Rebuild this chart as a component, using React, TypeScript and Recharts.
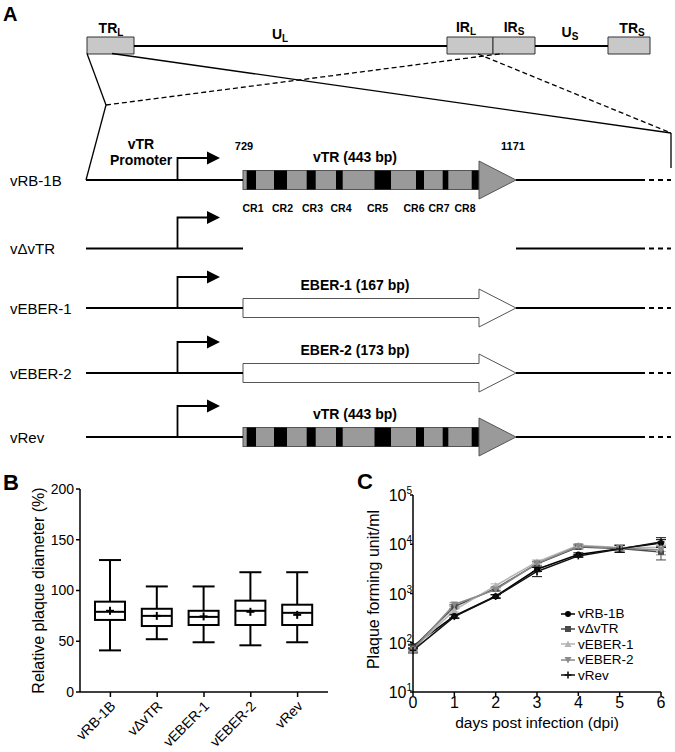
import React from 'react';
import {
  ComposedChart, LineChart, XAxis, YAxis, ReferenceLine, ReferenceArea, ReferenceDot,
  Bar, Line, ErrorBar, Legend,
} from 'recharts';

const FONT = "Arial, 'Liberation Sans', Helvetica, sans-serif";

/* ---------------- Panel A: schematic (diagram units of a 675 x 460 frame) ---------------- */
const genomeSegments = [[134, 447], [535, 608]];
const genomeBoxes = [
  { start: 87, end: 134 },
  { start: 447, end: 493 },
  { start: 493, end: 535 },
  { start: 608, end: 650 },
];
const genomeLabels = [
  { name: 'TR', sub: 'L', x: 111, y: 33 },
  { name: 'U', sub: 'L', x: 280, y: 39 },
  { name: 'IR', sub: 'L', x: 466, y: 31.5 },
  { name: 'IR', sub: 'S', x: 514, y: 31.5 },
  { name: 'U', sub: 'S', x: 570, y: 36.5 },
  { name: 'TR', sub: 'S', x: 632, y: 33 },
];
const zoomLinks = [
  { from: [87, 53.5], to: [106, 105], dashed: false },
  { from: [106, 105], to: [86, 180], dashed: false },
  { from: [106, 105], to: [503, 53.5], dashed: true },
  { from: [112, 53.5], to: [671, 133], dashed: false },
  { from: [671, 133], to: [671, 168], dashed: false },
  { from: [478, 54], to: [671, 133], dashed: true },
];
const constructNames = ['vRB-1B', 'v\u0394vTR', 'vEBER-1', 'vEBER-2', 'vRev'];
const constructRows = [180, 248.5, 308, 373, 437];
const constructInserts = ['vTR', 'none', 'EBER', 'EBER', 'vTR'];
const constructInsertLabels = ['vTR (443 bp)', '', 'EBER-1 (167 bp)', 'EBER-2 (173 bp)', 'vTR (443 bp)'];
const promoterHeights = [22, 31, 31, 31, 31];
const crBands = [[246.7, 256], [274, 287], [306.7, 315.7], [336, 342.7], [374.5, 391], [416, 424], [442.7, 448.3], [471.7, 479]];
const crLabels = ['CR1', 'CR2', 'CR3', 'CR4', 'CR5', 'CR6', 'CR7', 'CR8'];
const crLabelX = [253, 282.5, 312.5, 341, 377.5, 414, 439, 465];

const LINE_START = 86;
const INSERT_START = 243;
const HEAD_START = 479;
const INSERT_END = 516;
const FLANK_END = 645;
const DASH_START = 649;
const DASH_END = 671;
const PROMOTER_X = 177.5;
const PROMOTER_HEAD = 207;
const PROMOTER_TIP = 220;
const HEAD_HALF = 19;
const BODY_HALF = 9.5;

const txt = (content: any, size: number, bold = false, anchor = 'middle') => (p: any) => (
  <text x={p.cx} y={p.cy} textAnchor={anchor} fontSize={size} fontWeight={bold ? 'bold' : 'normal'}
    fill="#000" fontFamily={FONT}>{content}</text>
);

const insertShape = (kind: string) => (p: any) => {
  const { x, y, width, height } = p;
  const k = width / (INSERT_END - INSERT_START);
  const sx = (u: number) => x + (u - INSERT_START) * k;
  const cy = y + height / 2;
  const bh = (height * BODY_HALF) / (2 * HEAD_HALF);
  const hs = sx(HEAD_START);
  if (kind === 'EBER') {
    const pts = [
      [x, cy - bh], [hs, cy - bh], [hs, y], [x + width, cy], [hs, y + height], [hs, cy + bh], [x, cy + bh],
    ].map((q) => q.join(',')).join(' ');
    return <polygon points={pts} fill="#fff" stroke="#555" strokeWidth={1} />;
  }
  return (
    <g>
      <rect x={x} y={cy - bh} width={hs - x} height={2 * bh} fill="#9a9a9a" stroke="#555" strokeWidth={1} />
      {crBands.map((b, i) => (
        <rect key={i} x={sx(b[0])} y={cy - bh} width={sx(b[1]) - sx(b[0])} height={2 * bh} fill="#000" />
      ))}
      <polygon points={`${hs},${y} ${x + width},${cy} ${hs},${y + height}`} fill="#9a9a9a" stroke="#555" strokeWidth={1} />
    </g>
  );
};

const promoterShape = (h: number) => (p: any) => {
  const { x, y, width, height } = p;
  const k = height / (h + 6.5);
  const ay = y + 6.5 * k;
  const hs = x + ((PROMOTER_HEAD - PROMOTER_X) / (PROMOTER_TIP - PROMOTER_X)) * width;
  return (
    <g>
      <path d={`M${x},${y + height} L${x},${ay} L${hs},${ay}`} fill="none" stroke="#000" strokeWidth={1.8} />
      <polygon points={`${hs},${ay - 6.5 * k} ${x + width},${ay} ${hs},${ay + 6.5 * k}`} fill="#000" />
    </g>
  );
};

function GenomeDiagram() {
  const line = { stroke: '#000', strokeWidth: 1.8 };
  return (
    <ComposedChart width={675} height={460} data={[{ x: 0, y: 0 }]} margin={{ top: 0, right: 0, bottom: 0, left: 0 }}>
      <XAxis type="number" dataKey="x" domain={[0, 675]} hide allowDataOverflow />
      <YAxis type="number" dataKey="y" domain={[0, 460]} reversed hide allowDataOverflow />
      {genomeSegments.map((s, i) => (
        <ReferenceLine key={`g${i}`} segment={[{ x: s[0], y: 46 }, { x: s[1], y: 46 }]} {...line} ifOverflow="visible" />
      ))}
      {genomeBoxes.map((b, i) => (
        <ReferenceArea key={`b${i}`} x1={b.start} x2={b.end} y1={37} y2={54} fill="#c8c8c8" fillOpacity={1}
          stroke="#333" strokeWidth={1} ifOverflow="visible" />
      ))}
      {genomeLabels.map((l, i) => (
        <ReferenceDot key={`gl${i}`} x={l.x} y={l.y} r={0} ifOverflow="visible"
          shape={txt([l.name, <tspan key="s" fontSize={10} dy={3}>{l.sub}</tspan>], 14, true)} />
      ))}
      {zoomLinks.map((z, i) => (
        <ReferenceLine key={`z${i}`} segment={[{ x: z.from[0], y: z.from[1] }, { x: z.to[0], y: z.to[1] }]}
          stroke="#000" strokeWidth={1.3} strokeDasharray={z.dashed ? '5 3' : undefined} ifOverflow="visible" />
      ))}
      {constructNames.map((name, i) => {
        const row = constructRows[i];
        const ins = constructInserts[i];
        return (
          <React.Fragment key={`c${i}`}>
            <ReferenceDot x={10} y={row + 5.5} r={0} ifOverflow="visible" shape={txt(name, 15, false, 'start')} />
            <ReferenceLine segment={[{ x: LINE_START, y: row }, { x: INSERT_START, y: row }]} {...line} ifOverflow="visible" />
            <ReferenceLine segment={[{ x: INSERT_END, y: row }, { x: FLANK_END, y: row }]} {...line} ifOverflow="visible" />
            <ReferenceLine segment={[{ x: DASH_START, y: row }, { x: DASH_END, y: row }]} {...line}
              strokeDasharray="5 4" ifOverflow="visible" />
            <ReferenceArea x1={PROMOTER_X} x2={PROMOTER_TIP} y1={row - promoterHeights[i] - 6.5} y2={row}
              ifOverflow="visible" shape={promoterShape(promoterHeights[i])} />
            {ins !== 'none' && (
              <ReferenceArea x1={INSERT_START} x2={INSERT_END} y1={row - HEAD_HALF} y2={row + HEAD_HALF}
                ifOverflow="visible" shape={insertShape(ins)} />
            )}
            {ins !== 'none' && (
              <ReferenceDot x={INSERT_START + 112} y={row - 18} r={0} ifOverflow="visible"
                shape={txt(constructInsertLabels[i], 14, true)} />
            )}
          </React.Fragment>
        );
      })}
      <ReferenceDot x={141} y={149} r={0} ifOverflow="visible" shape={txt('vTR', 14, true)} />
      <ReferenceDot x={141} y={165} r={0} ifOverflow="visible" shape={txt('Promoter', 14, true)} />
      <ReferenceDot x={244} y={150} r={0} ifOverflow="visible" shape={txt('729', 11, true)} />
      <ReferenceDot x={513} y={150} r={0} ifOverflow="visible" shape={txt('1171', 11, true)} />
      {crLabels.map((c, i) => (
        <ReferenceDot key={`cr${i}`} x={crLabelX[i]} y={constructRows[0] + 32} r={0} ifOverflow="visible"
          shape={txt(c, 10.5, true)} />
      ))}
    </ComposedChart>
  );
}

/* ---------------- Panel B: relative plaque diameter ---------------- */
const strains = ['vRB-1B', 'v\u0394vTR', 'vEBER-1', 'vEBER-2', 'vRev'];
const plaqueMin = [41, 52, 49, 46, 49];
const plaqueQ1 = [71, 65, 66, 66, 66];
const plaqueMedian = [79, 75, 74, 80, 78];
const plaqueQ3 = [89, 82, 80, 90, 86];
const plaqueMax = [130, 104, 104, 118, 118];
const plaqueMean = [80, 75, 74.5, 79, 76];
const plaqueTicks = [0, 50, 100, 150, 200];

const boxData = strains.map((s, i) => ({
  strain: s, min: plaqueMin[i], q1: plaqueQ1[i], median: plaqueMedian[i],
  q3: plaqueQ3[i], max: plaqueMax[i], mean: plaqueMean[i],
}));

const BoxShape = (props: any) => {
  const { x, y, width, height, payload } = props;
  const top = Math.min(y, y + height);
  const h = Math.abs(height);
  const { min, max, q1, q3, median, mean } = payload;
  const py = (v: number) => top + (h * (max - v)) / (max - min);
  const cx = x + width / 2;
  const cap = 11;
  return (
    <g stroke="#000" strokeWidth={2} fill="none">
      <line x1={cx} x2={cx} y1={py(max)} y2={py(q3)} />
      <line x1={cx} x2={cx} y1={py(q1)} y2={py(min)} />
      <line x1={cx - cap} x2={cx + cap} y1={py(max)} y2={py(max)} />
      <line x1={cx - cap} x2={cx + cap} y1={py(min)} y2={py(min)} />
      <rect x={x} y={py(q3)} width={width} height={py(q1) - py(q3)} fill="#fff" />
      <line x1={x} x2={x + width} y1={py(median)} y2={py(median)} />
      <line x1={cx - 4} x2={cx + 4} y1={py(mean)} y2={py(mean)} />
      <line x1={cx} x2={cx} y1={py(mean) - 4} y2={py(mean) + 4} />
    </g>
  );
};

const RotTick = (p: any) => {
  const tx = p.x + 6;
  const ty = p.y + 8;
  return (
    <text x={tx} y={ty} transform={`rotate(-45, ${tx}, ${ty})`} textAnchor="end" fontSize={14}
      fill="#000" fontFamily={FONT}>{p.payload.value}</text>
  );
};

function PlaqueBox() {
  return (
    <ComposedChart width={340} height={292} data={boxData} margin={{ top: 29, right: 12, bottom: 0, left: 0 }}>
      <XAxis dataKey="strain" type="category" height={60} padding={{ left: 7, right: 7 }} interval={0}
        tickSize={5} tickLine={{ stroke: '#000', strokeWidth: 1.5 }} axisLine={{ stroke: '#000', strokeWidth: 1.5 }}
        tick={<RotTick />} />
      <YAxis type="number" domain={[0, 200]} ticks={plaqueTicks} width={80} tickSize={4} tickMargin={2}
        tickLine={{ stroke: '#000', strokeWidth: 1.5 }} axisLine={{ stroke: '#000', strokeWidth: 1.5 }}
        tick={{ fill: '#000', fontSize: 14 }}
        label={{
          content: (lp: any) => {
            const vb = lp.viewBox || { x: 0, y: 29, height: 203 };
            const cx = vb.x + 38;
            const cy = vb.y + vb.height / 2;
            return (
              <text x={cx} y={cy} transform={`rotate(-90, ${cx}, ${cy})`} textAnchor="middle"
                dominantBaseline="central" fontSize={16} fill="#000" fontFamily={FONT}>
                Relative plaque diameter (%)
              </text>
            );
          },
        }} />
      <Bar dataKey={(d: any) => [d.min, d.max]} barSize={30} isAnimationActive={false} shape={BoxShape} />
    </ComposedChart>
  );
}

/* ---------------- Panel C: multi-step growth ---------------- */
const days = [0, 1, 2, 3, 4, 5, 6];
const rb1b = [85, 350, 880, 3100, 6200, 8100, 10600];
const dvtr = [80, 540, 1260, 4000, 8800, 8200, 7000];
const eber1 = [74, 460, 1450, 4400, 9500, 8600, 8600];
const eber2 = [72, 600, 1200, 4100, 9100, 8400, 7600];
const rev = [70, 340, 870, 2800, 5800, 8000, 11100];
const rb1bErr = [[8, 8], [30, 30], [60, 60], [300, 300], [500, 500], [1200, 1500], [1500, 1800]];
const dvtrErr = [[8, 8], [50, 50], [100, 100], [400, 400], [800, 800], [1300, 1500], [2200, 1800]];
const eber1Err = [[6, 6], [40, 40], [120, 120], [400, 400], [800, 800], [1000, 1200], [1500, 1500]];
const eber2Err = [[6, 6], [50, 50], [100, 100], [400, 400], [800, 800], [1000, 1200], [1500, 1500]];
const revErr = [[8, 8], [30, 30], [80, 80], [600, 600], [400, 400], [1200, 1400], [2500, 2500]];
const powerTicks = [10, 100, 1000, 10000, 100000];

const growthData = days.map((d, i) => ({
  day: d, rb1b: rb1b[i], dvtr: dvtr[i], eber1: eber1[i], eber2: eber2[i], rev: rev[i],
  rb1bErr: rb1bErr[i], dvtrErr: dvtrErr[i], eber1Err: eber1Err[i], eber2Err: eber2Err[i], revErr: revErr[i],
}));

const growthSeries = [
  { key: 'rb1b', name: 'vRB-1B', color: '#000000', marker: 'circle' },
  { key: 'dvtr', name: 'v\u0394vTR', color: '#4a4a4a', marker: 'square' },
  { key: 'eber1', name: 'vEBER-1', color: '#b4b4b4', marker: 'up' },
  { key: 'eber2', name: 'vEBER-2', color: '#8a8a8a', marker: 'down' },
  { key: 'rev', name: 'vRev', color: '#111111', marker: 'plus' },
];

const Marker = ({ cx, cy, kind, color }: any) => {
  if (cx == null || cy == null) return null;
  if (kind === 'circle') return <circle cx={cx} cy={cy} r={3} fill={color} />;
  if (kind === 'square') return <rect x={cx - 3} y={cy - 3} width={6} height={6} fill={color} />;
  if (kind === 'up') return <polygon points={`${cx - 3.5},${cy + 3} ${cx + 3.5},${cy + 3} ${cx},${cy - 3.5}`} fill={color} />;
  if (kind === 'down') return <polygon points={`${cx - 3.5},${cy - 3} ${cx + 3.5},${cy - 3} ${cx},${cy + 3.5}`} fill={color} />;
  return (
    <g stroke={color} strokeWidth={1.6}>
      <line x1={cx - 3.5} x2={cx + 3.5} y1={cy} y2={cy} />
      <line x1={cx} x2={cx} y1={cy - 3.5} y2={cy + 3.5} />
    </g>
  );
};

const PowTick = (p: any) => {
  const exp = Math.round(Math.log10(p.payload.value));
  return (
    <text x={p.x + 2} y={p.y + 6} textAnchor="end" fontSize={16} fill="#000" fontFamily={FONT}>
      10<tspan fontSize={10} dy={-7}>{exp}</tspan>
    </text>
  );
};

const LEGEND_ROW = 15.4;
const GrowthLegend = () => (
  <div style={{ fontFamily: FONT, fontSize: 13.5, color: '#000' }}>
    {growthSeries.map((s) => (
      <div key={s.key} style={{ display: 'flex', alignItems: 'center', height: LEGEND_ROW, whiteSpace: 'nowrap' }}>
        <svg width={15} height={10} style={{ marginRight: 2, overflow: 'visible' }}>
          <line x1={0} x2={14} y1={5} y2={5} stroke={s.color} strokeWidth={1.5} />
          <Marker cx={7} cy={5} kind={s.marker} color={s.color} />
        </svg>
        <span style={{ lineHeight: `${LEGEND_ROW}px` }}>{s.name}</span>
      </div>
    ))}
  </div>
);

function GrowthCurve() {
  return (
    <LineChart width={335} height={292} data={growthData} margin={{ top: 35, right: 14, bottom: 0, left: 0 }}>
      <XAxis dataKey="day" type="number" domain={[0, 6]} ticks={days} height={60} tickSize={4} tickMargin={1}
        tick={{ fill: '#000', fontSize: 16 }} tickLine={{ stroke: '#000', strokeWidth: 1.5 }}
        axisLine={{ stroke: '#000', strokeWidth: 1.5 }}
        label={{
          content: (lp: any) => {
            const vb = lp.viewBox || { x: 73, y: 232, width: 248 };
            return (
              <text x={vb.x + vb.width / 2} y={vb.y + 30} textAnchor="middle" dominantBaseline="central"
                fontSize={15.5} fill="#000" fontFamily={FONT}>days post infection (dpi)</text>
            );
          },
        }} />
      <YAxis type="number" scale="log" domain={[10, 100000]} ticks={powerTicks} allowDataOverflow width={73}
        tickSize={3} tickMargin={0} tick={<PowTick />} tickLine={{ stroke: '#000', strokeWidth: 1.5 }}
        axisLine={{ stroke: '#000', strokeWidth: 1.5 }}
        label={{
          content: (lp: any) => {
            const vb = lp.viewBox || { x: 0, y: 35, height: 197 };
            const cx = vb.x + 33;
            const cy = vb.y + vb.height / 2 - 4;
            return (
              <text x={cx} y={cy} transform={`rotate(-90, ${cx}, ${cy})`} textAnchor="middle"
                dominantBaseline="central" fontSize={16} fill="#000" fontFamily={FONT}>Plaque forming unit/ml</text>
            );
          },
        }} />
      {growthSeries.map((s) => (
        <Line key={s.key} dataKey={s.key} name={s.name} stroke={s.color} strokeWidth={1.5} isAnimationActive={false}
          dot={(dp: any) => <Marker key={`${s.key}-${dp.index}`} cx={dp.cx} cy={dp.cy} kind={s.marker} color={s.color} />}
          activeDot={false}>
          <ErrorBar dataKey={`${s.key}Err`} width={5} stroke={s.color} strokeWidth={1} direction="y" />
        </Line>
      ))}
      <Legend layout="vertical" align="center" verticalAlign="middle" content={() => <GrowthLegend />}
        wrapperStyle={{ left: 221, top: 146, width: 110, height: 78 }} />
    </LineChart>
  );
}

export default function App() {
  const panelLabel = { position: 'absolute' as const, fontWeight: 'bold' as const, lineHeight: '22px', fontSize: 22 };
  return (
    <div style={{ position: 'absolute', left: 0, top: 0, width: 675, height: 752, background: '#fff', fontFamily: FONT, color: '#000', overflow: 'hidden' }}>
      <div style={{ position: 'absolute', left: 0, top: 0 }}><GenomeDiagram /></div>
      <div style={{ position: 'absolute', left: 0, top: 460 }}><PlaqueBox /></div>
      <div style={{ position: 'absolute', left: 340, top: 460 }}><GrowthCurve /></div>
      <div style={{ ...panelLabel, fontSize: 20, lineHeight: '20px', left: 3, top: 4 }}>A</div>
      <div style={{ ...panelLabel, left: 3, top: 472 }}>B</div>
      <div style={{ ...panelLabel, left: 357, top: 471 }}>C</div>
    </div>
  );
}
